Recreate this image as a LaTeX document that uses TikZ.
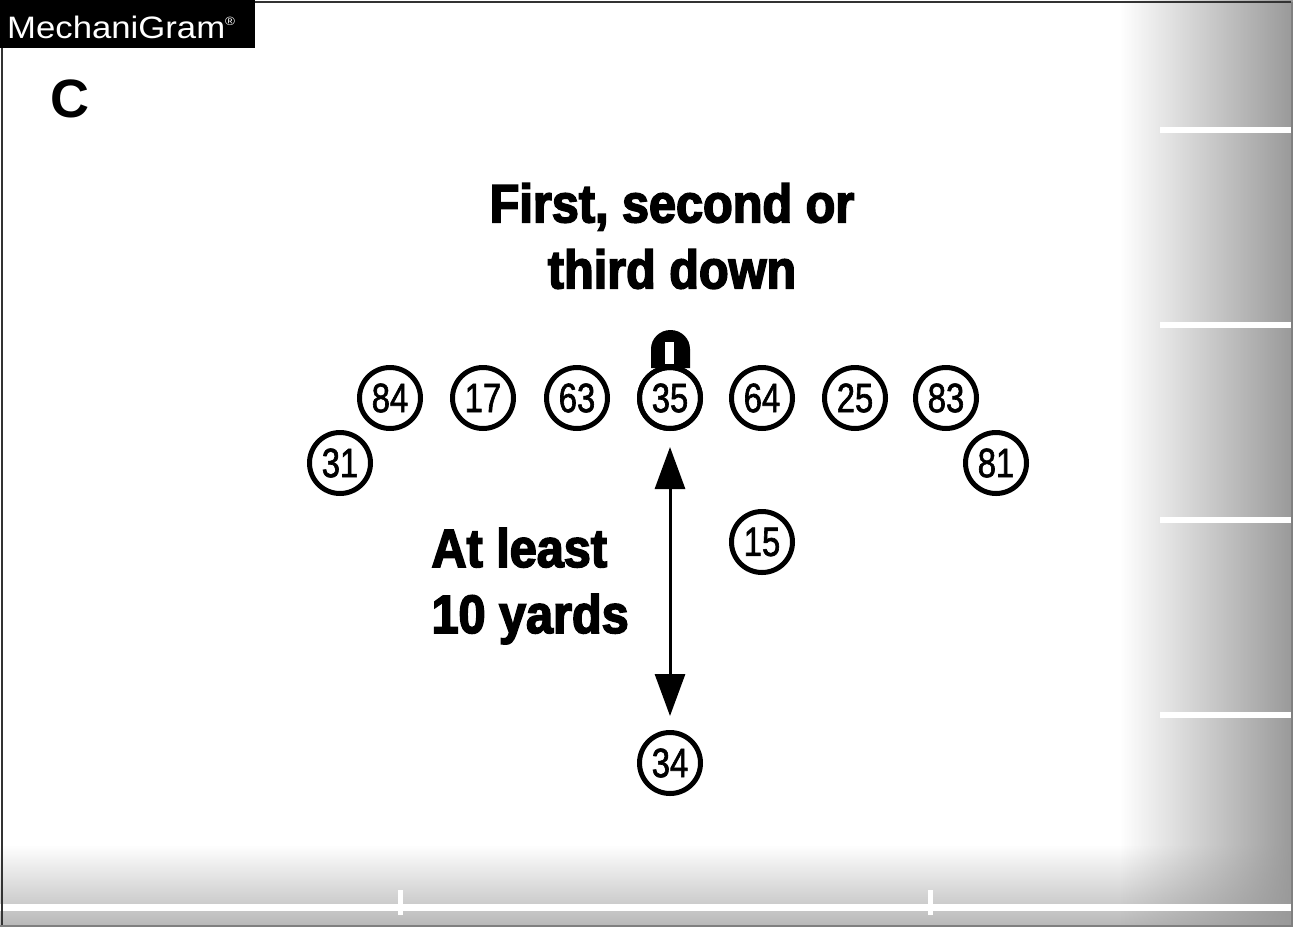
\documentclass[tikz,border=0pt]{standalone}
\usepackage{fontspec}
\setmainfont{Liberation Sans}
\newfontfamily\condfont[FakeStretch=0.8,FakeBold=1.5]{Liberation Sans}
\newfontfamily\condbold[FakeStretch=0.9,FakeBold=3]{Liberation Sans Bold}
\newfontfamily\tagfont[FakeStretch=1.12]{Liberation Sans}
\usetikzlibrary{arrows.meta,shadings,fadings}
\begin{document}
\begin{tikzpicture}[x=1pt,y=-1pt,
  player/.style={circle,draw=black,line width=5pt,minimum size=61pt,inner sep=0pt,
     font=\condfont\fontsize{41}{41}\selectfont},
  lbl/.style={font=\condbold\fontsize{54}{66}\selectfont,align=center},
  stripe/.style={fill=white,draw=none}]
\useasboundingbox (0,0) rectangle (1293,927);
\fill[white] (0,0) rectangle (1293,927);
% gray margins
\fill[black!28,path fading=north] (0,845) rectangle (1293,927);
\fill[black!40,path fading=west] (1120,0) rectangle (1293,927);
% white yard stripes
\foreach \yy in {130,325,520,715}{\fill[stripe] (1160,\yy-3) rectangle (1293,\yy+3);}
\fill[stripe] (0,904) rectangle (1293,911);
\fill[stripe] (398,890) rectangle (403,915);
\fill[stripe] (928,890) rectangle (933,915);
% frame
\draw[black!80,line width=2pt] (2,927) -- (2,2) -- (1291,2);
\draw[black!50,line width=1.5pt] (1292,2) -- (1292,927);
\draw[black!50,line width=1.5pt] (0,926) -- (1293,926);
% title tag
\fill[black] (0,0) rectangle (255,48);
\node[text=white,anchor=west,font=\tagfont\fontsize{31}{31}\selectfont,inner sep=0pt] (tag) at (7,27) {MechaniGram\raisebox{0.75ex}{\fontsize{12}{12}\selectfont\textregistered}};
\node[font=\bfseries\fontsize{54}{54}\selectfont,inner sep=0pt] (c) at (70,99) {C};
% heading
\node[lbl] (head) at (672,236) {First, second or\\third down};
% players
\node[player] (p84) at (390,398) {84};
\node[player] (p17) at (483,398) {17};
\node[player] (p63) at (577,398) {63};
\node[player] (p35) at (670,398) {35};
\node[player] (p64) at (762,398) {64};
\node[player] (p25) at (855,398) {25};
\node[player] (p83) at (946,398) {83};
\node[player] (p31) at (340,463) {31};
\node[player] (p81) at (996,463) {81};
\node[player] (p15) at (762,542) {15};
\node[player] (p34) at (670,763) {34};
% ball
\fill[black] (651,368) -- (651,349) arc[start angle=180,end angle=0,x radius=19.5,y radius=-19] -- (690,368) -- cycle;
\fill[white] (665,342) rectangle (674,364);
\draw[line width=5pt] (p35) circle[radius=30.5];
% arrow
\draw[line width=3pt,{Triangle[length=42pt,width=30pt]}-{Triangle[length=42pt,width=30pt]},shorten <=16pt,shorten >=14pt] (p35.south) -- (p34.north);
% distance label
\node[lbl,align=left,anchor=west] (dist) at (428,586) {At least\\10 yards};
\end{tikzpicture}
\end{document}
